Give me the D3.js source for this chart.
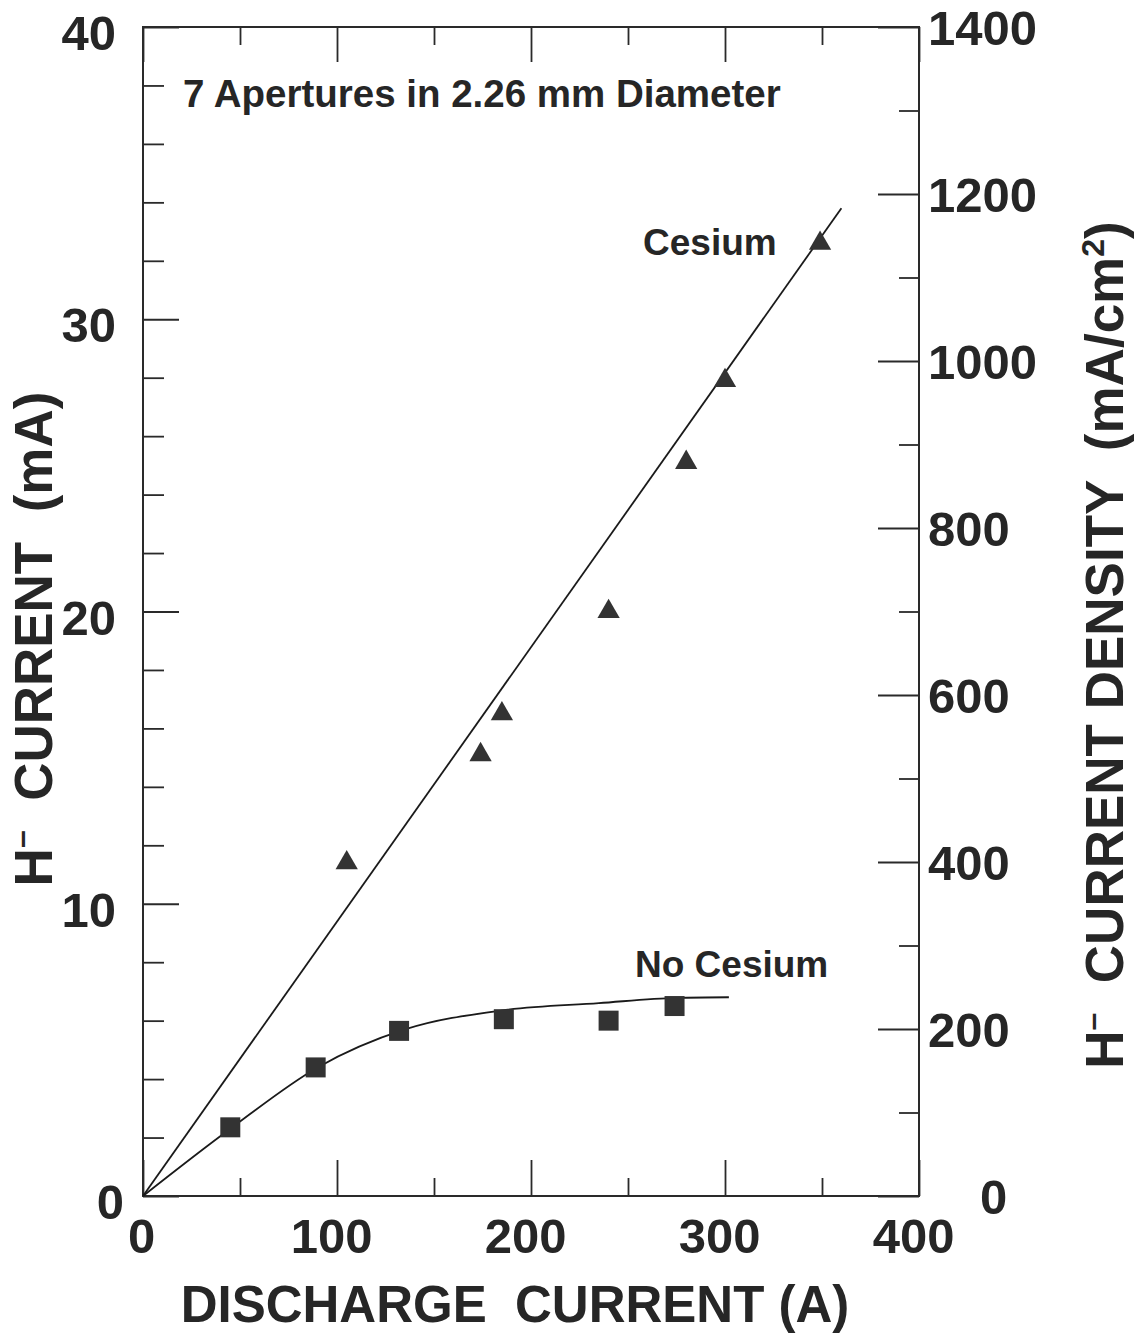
<!DOCTYPE html>
<html>
<head>
<meta charset="utf-8">
<script src="https://cdn.jsdelivr.net/npm/d3@7/dist/d3.min.js"></script>
<style>
  html, body { margin: 0; padding: 0; background: #fff; }
  svg { display: block; }
  text { font-family: "Liberation Sans", Arial, Helvetica, sans-serif; font-weight: bold; fill: #262626; }
</style>
</head>
<body>
<svg id="chart" width="1138" height="1337"></svg>
<script>
// ---- data ----
const xTicksMajor = [0, 100, 200, 300, 400];
const xTicksMinor = [50, 150, 250, 350];
const yTicksMajor = [0, 10, 20, 30, 40];
const yTicksMinor = [2, 4, 6, 8, 12, 14, 16, 18, 22, 24, 26, 28, 32, 34, 36, 38];
const yRTicksMajor = [0, 200, 400, 600, 800, 1000, 1200, 1400];
const yRTicksMinor = [100, 300, 500, 700, 900, 1100, 1300];

const cesiumX = [105, 174, 185, 240, 280, 300, 349];
const cesiumY = [11.4, 15.1, 16.5, 20.0, 25.1, 27.9, 32.6];
const cesiumFitX = [0, 360];
const cesiumFitY = [0, 33.8];

const noCesiumX = [45, 89, 132, 186, 240, 274];
const noCesiumY = [2.35, 4.4, 5.65, 6.05, 6.0, 6.5];
const noCesiumFitX = [0, 45, 90, 135, 185, 235, 275, 302];
const noCesiumFitY = [0, 2.3, 4.4, 5.7, 6.35, 6.6, 6.78, 6.8];

// ---- layout ----
const L = 143, R = 919, T = 27, B = 1196;
const svg = d3.select("#chart");
const x = d3.scaleLinear().domain([0, 400]).range([L, R]);
const y = d3.scaleLinear().domain([0, 40]).range([B, T]);
const yR = d3.scaleLinear().domain([0, 1400]).range([B, T]);
const ink = "#2a2a2a";

function styleAxis(g) {
  g.select(".domain").remove();
  g.selectAll(".tick line").attr("stroke", ink).attr("stroke-width", 1.8);
  g.selectAll(".tick text")
    .style("font-family", "'Liberation Sans', Arial, sans-serif")
    .style("font-weight", "bold")
    .style("font-size", "49px")
    .attr("fill", "#262626");
}

// bottom axis
svg.append("g").attr("transform", `translate(0,${B})`)
  .call(d3.axisBottom(x).tickValues(xTicksMajor).tickSize(-36).tickPadding(22).tickFormat(d3.format("d")))
  .call(styleAxis)
  .call(g => g.selectAll(".tick text").attr("dx", d => d === 0 ? -2 : -6));
svg.append("g").attr("transform", `translate(0,${B})`)
  .call(d3.axisBottom(x).tickValues(xTicksMinor).tickSize(-18).tickFormat(""))
  .call(styleAxis);
// top axis
svg.append("g").attr("transform", `translate(0,${T})`)
  .call(d3.axisTop(x).tickValues(xTicksMajor).tickSize(-35).tickFormat(""))
  .call(styleAxis);
svg.append("g").attr("transform", `translate(0,${T})`)
  .call(d3.axisTop(x).tickValues(xTicksMinor).tickSize(-18).tickFormat(""))
  .call(styleAxis);
// left axis
svg.append("g").attr("transform", `translate(${L},0)`)
  .call(d3.axisLeft(y).tickValues(yTicksMajor).tickSize(-36).tickPadding(27).tickFormat(d3.format("d")))
  .call(styleAxis)
  .call(g => g.selectAll(".tick text").attr("dy", "0.46em").attr("x", d => d === 0 ? -19 : -27));
svg.append("g").attr("transform", `translate(${L},0)`)
  .call(d3.axisLeft(y).tickValues(yTicksMinor).tickSize(-21).tickFormat(""))
  .call(styleAxis);
// right axis
svg.append("g").attr("transform", `translate(${R},0)`)
  .call(d3.axisRight(yR).tickValues(yRTicksMajor).tickSize(-41).tickPadding(9).tickFormat(d3.format("d")))
  .call(styleAxis)
  .call(g => g.selectAll(".tick text").attr("dy", "0.36em").attr("x", d => d === 0 ? 61 : 9));
svg.append("g").attr("transform", `translate(${R},0)`)
  .call(d3.axisRight(yR).tickValues(yRTicksMinor).tickSize(-20).tickFormat(""))
  .call(styleAxis);

// frame
svg.append("rect").attr("x", L).attr("y", T).attr("width", R - L).attr("height", B - T)
  .attr("fill", "none").attr("stroke", ink).attr("stroke-width", 2);

// fit lines
const lineGen = d3.line().x(d => x(d[0])).y(d => y(d[1]));
svg.append("path")
  .datum(d3.zip(cesiumFitX, cesiumFitY))
  .attr("d", lineGen).attr("fill", "none").attr("stroke", "#1a1a1a").attr("stroke-width", 1.8);
svg.append("path")
  .datum(d3.zip(noCesiumFitX, noCesiumFitY))
  .attr("d", lineGen.curve(d3.curveMonotoneX)).attr("fill", "none").attr("stroke", "#1a1a1a").attr("stroke-width", 1.8);

// markers
svg.append("g").selectAll("path")
  .data(d3.zip(cesiumX, cesiumY))
  .join("path")
  .attr("transform", d => `translate(${x(d[0])},${y(d[1])})`)
  .attr("d", d3.symbol(d3.symbolTriangle, 215))
  .attr("fill", "#333");
svg.append("g").selectAll("path")
  .data(d3.zip(noCesiumX, noCesiumY))
  .join("path")
  .attr("transform", d => `translate(${x(d[0])},${y(d[1])})`)
  .attr("d", d3.symbol(d3.symbolSquare, 400))
  .attr("fill", "#333");

// annotations
svg.append("text").attr("x", 183).attr("y", 107).style("font-size", "38.5px")
  .text("7 Apertures in 2.26 mm Diameter");
svg.append("text").attr("x", 643).attr("y", 255).style("font-size", "37px").text("Cesium");
svg.append("text").attr("x", 635).attr("y", 977).style("font-size", "37px").text("No Cesium");

// axis titles
svg.append("text").attr("x", 515).attr("y", 1322).attr("text-anchor", "middle")
  .style("font-size", "51px").style("white-space", "pre")
  .text("DISCHARGE  CURRENT (A)");

const lt = svg.append("text")
  .attr("transform", `translate(52,${639}) rotate(-90)`)
  .attr("text-anchor", "middle").style("font-size", "53px").style("white-space", "pre");
lt.append("tspan").text("H");
lt.append("tspan").attr("dy", -20).style("font-size", "32px").text("\u2013");
lt.append("tspan").attr("dy", 20).text("  CURRENT  (mA)");

const rt = svg.append("text")
  .attr("transform", `translate(1123,${645}) rotate(-90)`)
  .attr("text-anchor", "middle").style("font-size", "53px").style("white-space", "pre");
rt.append("tspan").text("H");
rt.append("tspan").attr("dy", -20).style("font-size", "32px").text("\u2013");
rt.append("tspan").attr("dy", 20).text("  CURRENT DENSITY  (mA/cm");
rt.append("tspan").attr("dy", -19).style("font-size", "32px").text("2");
rt.append("tspan").attr("dy", 19).text(")");
</script>
</body>
</html>
